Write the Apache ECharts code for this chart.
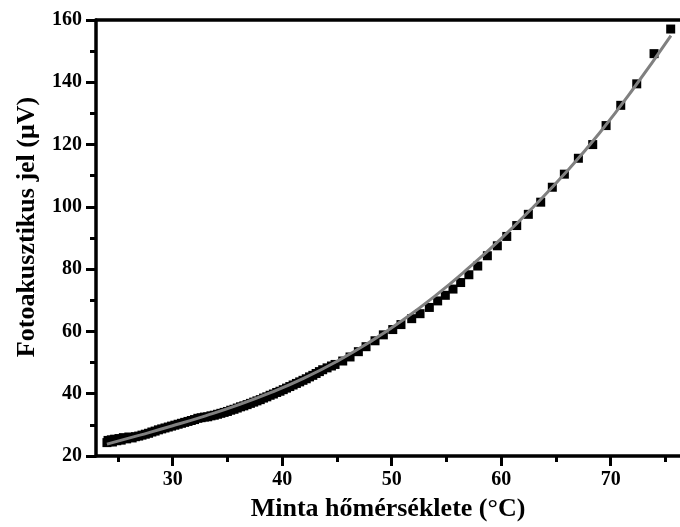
<!DOCTYPE html>
<html>
<head>
<meta charset="utf-8">
<title>Fotoakusztikus jel</title>
<script src="https://cdn.jsdelivr.net/npm/echarts@6/dist/echarts.min.js"></script>
<style>
    html, body { margin: 0; padding: 0; background: #fff; }
    #chart { width: 680px; height: 527px; }
</style>
</head>
<body>
<div id="chart"></div>
<script>
// measured points (temperature in °C, signal in µV)
var tempC = [
    24.0, 24.1, 24.2, 24.4, 24.5, 24.7, 24.9, 25.1, 25.3, 25.5, 25.8, 26.0, 26.3, 26.6, 26.9,
    27.2, 27.5, 27.8, 28.1, 28.4, 28.7, 29.0, 29.3, 29.6, 29.9, 30.2, 30.5, 30.8, 31.1, 31.4,
    31.7, 32.0, 32.3, 32.6, 32.9, 33.2, 33.5, 33.8, 34.1, 34.4, 34.7, 35.0, 35.3, 35.6, 35.9,
    36.2, 36.5, 36.8, 37.1, 37.4, 37.7, 38.0, 38.3, 38.6, 38.9, 39.2, 39.5, 39.8, 40.1, 40.4,
    40.7, 41.0, 41.3, 41.6, 41.9, 42.2, 42.5, 42.8, 43.1, 43.4, 43.7, 44.1, 44.5, 44.83, 45.53,
    46.2, 46.96, 47.66, 48.48, 49.24, 50.1, 50.85, 51.83, 52.59, 53.44, 54.2, 54.9, 55.6, 56.3,
    57.05, 57.86, 58.74, 59.65, 60.51, 61.42, 62.48, 63.61, 64.67, 65.77, 67.05, 68.36, 69.58,
    70.92, 72.38, 73.96, 75.48
];
var signalUV = [
    24.3, 25.0, 24.6, 25.2, 24.5, 25.4, 24.9, 25.6, 25.1, 25.9, 25.5, 26.1, 25.8, 26.2, 26.4,
    26.7, 27.0, 27.3, 27.7, 28.0, 28.4, 28.7, 29.0, 29.3, 29.6, 29.9, 30.2, 30.5, 30.8, 31.1,
    31.4, 31.7, 32.1, 32.3, 32.5, 32.6, 32.9, 33.1, 33.4, 33.7, 34.0, 34.3, 34.7, 35.0, 35.4,
    35.8, 36.1, 36.5, 36.9, 37.3, 37.7, 38.1, 38.6, 39.0, 39.5, 39.9, 40.4, 40.8, 41.3, 41.8,
    42.3, 42.8, 43.3, 43.8, 44.3, 44.8, 45.4, 45.9, 46.5, 47.1, 47.7, 48.3, 48.9, 49.4, 50.5,
    51.8, 53.5, 55.1, 57.0, 58.9, 60.6, 62.2, 64.1, 65.7, 67.7, 69.8, 71.6, 73.6, 75.7,
    78.2, 81.0, 84.3, 87.5, 90.5, 94.0, 97.6, 101.5, 106.3, 110.5, 115.6, 120.0, 126.1,
    132.6, 139.5, 149.2, 157.1
];

// fitted curve
var fitTemp = [24, 27, 30, 33, 36, 39, 42, 45, 48, 51, 54, 57, 60, 63, 66, 69, 72, 75.5];
var fitSignal = [23.8, 26.7, 29.7, 32.9, 36.4, 40.4, 45.0, 50.4, 56.6, 63.6, 71.5, 80.3, 89.8, 100.2, 111.4, 123.8, 137.6, 155.0];

var xMajorTicks = [30, 40, 50, 60, 70];
var xMinorTicks = [25, 35, 45, 55, 65, 75];

var xTitle = "Minta hőmérséklete (°C)";
var yTitle = "Fotoakusztikus jel (μV)";

var FONT = "'Liberation Serif', 'Times New Roman', serif";

function pairs(xs, ys) {
    var out = [];
    for (var i = 0; i < xs.length; i++) {
        out.push([xs[i], ys[i]]);
    }
    return out;
}

var xMin = 23, xMax = 76.33;
var lineStyle = { color: "#000", width: 3.5 };

var option = {
    backgroundColor: "#fff",
    animation: false,
    grid: { left: 96, right: 0, top: 20, bottom: 69.5 },
    xAxis: [
        {
            type: "value",
            position: "bottom",
            min: xMin,
            max: xMax,
            axisLine: { show: true, onZero: false, lineStyle: lineStyle },
            axisTick: { show: true, inside: false, length: 10, customValues: xMajorTicks, lineStyle: { color: "#000", width: 3 } },
            axisLabel: {
                customValues: xMajorTicks, margin: 14,
                color: "#000", fontFamily: FONT, fontWeight: "bold", fontSize: 20
            },
            splitLine: { show: false },
            name: xTitle,
            nameLocation: "middle",
            nameGap: 40,
            nameTextStyle: { color: "#000", fontFamily: FONT, fontWeight: "bold", fontSize: 26 }
        },
        {
            type: "value",
            position: "bottom",
            min: xMin,
            max: xMax,
            axisLine: { show: false, onZero: false },
            axisTick: { show: true, inside: false, length: 6, customValues: xMinorTicks, lineStyle: { color: "#000", width: 3 } },
            axisLabel: { show: false },
            splitLine: { show: false }
        },
        {
            type: "value",
            position: "top",
            min: xMin,
            max: xMax,
            axisLine: { show: true, onZero: false, lineStyle: lineStyle },
            axisTick: { show: false },
            axisLabel: { show: false },
            splitLine: { show: false }
        }
    ],
    yAxis: {
        type: "value",
        min: 20,
        max: 160,
        interval: 20,
        axisLine: { show: true, onZero: false, lineStyle: lineStyle },
        axisTick: { show: true, inside: false, length: 10, lineStyle: { color: "#000", width: 3 } },
        minorTick: { show: true, splitNumber: 2, length: 6, lineStyle: { color: "#000", width: 3 } },
        axisLabel: { margin: 14, color: "#000", fontFamily: FONT, fontWeight: "bold", fontSize: 20 },
        splitLine: { show: false },
        name: yTitle,
        nameLocation: "middle",
        nameGap: 56,
        nameTextStyle: { color: "#000", fontFamily: FONT, fontWeight: "bold", fontSize: 26, padding: [0, 0, 0, 22] }
    },
    series: [
        {
            name: "mért",
            type: "scatter",
            symbol: "rect",
            symbolSize: 9,
            itemStyle: { color: "#000", opacity: 1 },
            data: pairs(tempC, signalUV),
            z: 2
        },
        {
            name: "illesztés",
            type: "line",
            smooth: true,
            showSymbol: false,
            lineStyle: { color: "#808080", width: 3 },
            data: pairs(fitTemp, fitSignal),
            z: 3
        }
    ]
};

var chart = echarts.init(document.getElementById("chart"), null, { renderer: "canvas" });
chart.setOption(option);
</script>
</body>
</html>
